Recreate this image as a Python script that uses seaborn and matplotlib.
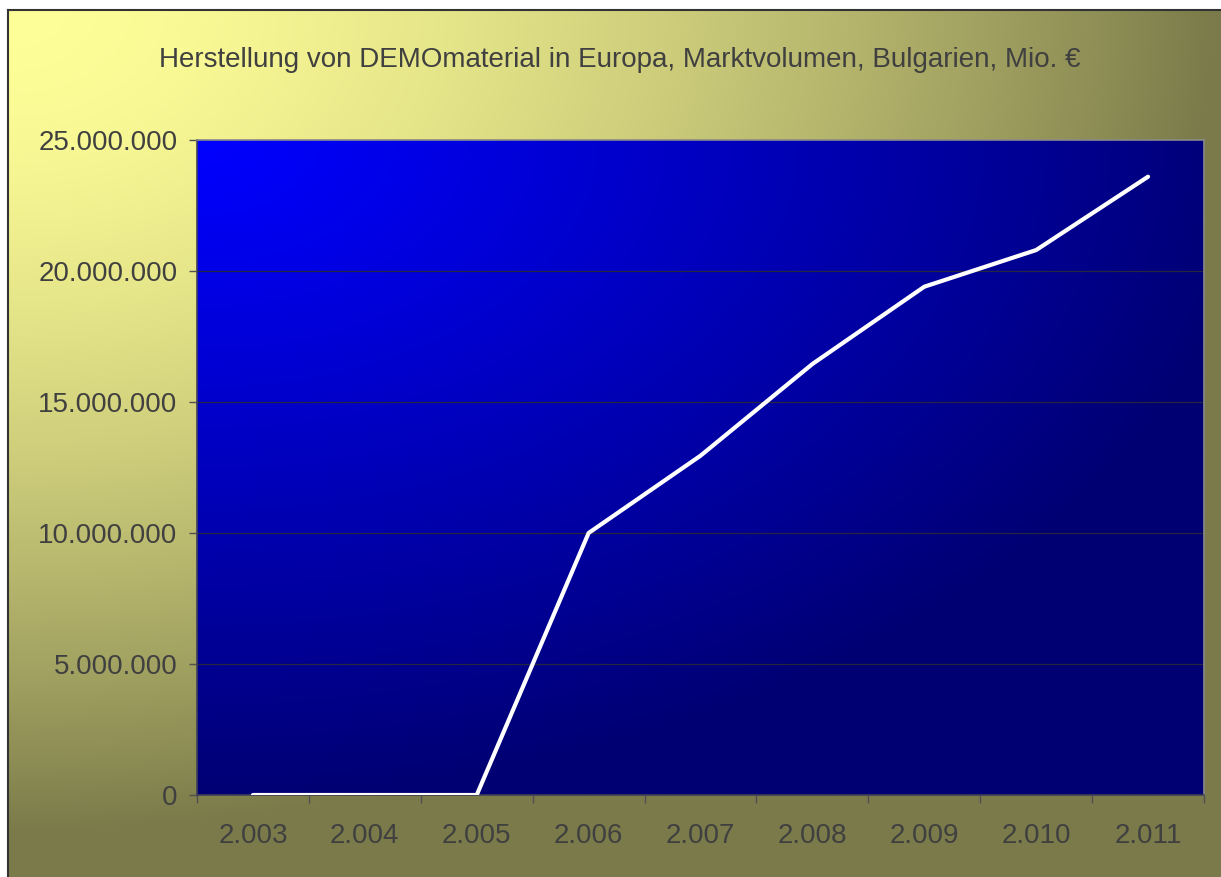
import seaborn as sns
import matplotlib.pyplot as plt
import numpy as np

# data
jahre = ['2.003', '2.004', '2.005', '2.006', '2.007', '2.008', '2.009', '2.010', '2.011']
werte = [0, 0, 0, 10000000, 12950000, 16450000, 19400000, 20800000, 23600000]
y_ticks = [0, 5000000, 10000000, 15000000, 20000000, 25000000]
titel = 'Herstellung von DEMOmaterial in Europa, Marktvolumen, Bulgarien, Mio. \u20ac'

sns.set_style('white')
plt.rcParams['font.family'] = ['Liberation Sans', 'DejaVu Sans']
text_farbe = '#404040'

W, H = 1221, 877
fig = plt.figure(figsize=(W / 100, H / 100), dpi=100, facecolor='white')

# chart area with corner gradient (pale yellow -> olive)
bg = fig.add_axes([8 / W, 0, 1 - 8 / W, 1 - 10 / H])
gx, gy = np.meshgrid(np.linspace(0, 1, 400), np.linspace(0, 1, 300))
t = np.clip(np.sqrt(gx ** 2 + (gy * 1.05) ** 2), 0, 1) ** 1.6
c0 = np.array([255, 255, 153]) / 255
c1 = np.array([122, 122, 74]) / 255
img = c0[None, None, :] * (1 - t[..., None]) + c1[None, None, :] * t[..., None]
bg.imshow(img, extent=[0, 1, 0, 1], aspect='auto', origin='upper')
bg.set_xticks([])
bg.set_yticks([])
for side in ['right', 'bottom']:
    bg.spines[side].set_visible(False)
for side in ['left', 'top']:
    bg.spines[side].set_color('#333333')
    bg.spines[side].set_linewidth(1.5)

fig.text(620 / W, 1 - 60 / H, titel, ha='center', va='center', fontsize=20, color=text_farbe)

# plot area
ax = fig.add_axes([197 / W, 82 / H, (1204 - 197) / W, (795 - 140) / H])
ax.set_facecolor('none')
t2 = np.clip(np.sqrt((gx * 0.95) ** 2 + gy ** 2), 0, 1) ** 1.1
b0 = np.array([0, 0, 255]) / 255
b1 = np.array([0, 0, 115]) / 255
img2 = b0[None, None, :] * (1 - t2[..., None]) + b1[None, None, :] * t2[..., None]
ax.imshow(img2, extent=[0, 1, 0, 1], aspect='auto', origin='upper',
          transform=ax.transAxes, zorder=0)

for v in y_ticks[1:-1]:
    ax.axhline(v, color='#26263f', lw=0.9, zorder=1)

x = np.arange(len(jahre))
sns.lineplot(x=x, y=werte, ax=ax, color='white', lw=3, zorder=3)

ax.set_xlim(-0.5, len(jahre) - 0.5)
ax.set_ylim(0, 25000000)
ax.set_yticks(y_ticks)
ax.set_yticklabels([f'{v:,.0f}'.replace(',', '.') for v in y_ticks])
ax.set_xticks(np.arange(len(jahre) + 1) - 0.5)
ax.set_xticklabels([])
ax.set_xticks(x, minor=True)
ax.set_xticklabels(jahre, minor=True)
ax.tick_params(axis='y', which='major', direction='out', length=6, width=1,
               color='#505050', labelsize=20, labelcolor=text_farbe, pad=8, left=True)
ax.tick_params(axis='x', which='major', direction='out', length=6, width=1,
               color='#505050', bottom=True)
ax.tick_params(axis='x', which='minor', length=0, labelsize=20,
               labelcolor=text_farbe, pad=20)
ax.set_xlabel('')
ax.set_ylabel('')
for side in ['left', 'bottom']:
    ax.spines[side].set_color('#404058')
    ax.spines[side].set_linewidth(1.2)
for side in ['top', 'right']:
    ax.spines[side].set_color('#8a8a8a')
    ax.spines[side].set_linewidth(1.2)

fig.savefig('out.png', dpi=100)
